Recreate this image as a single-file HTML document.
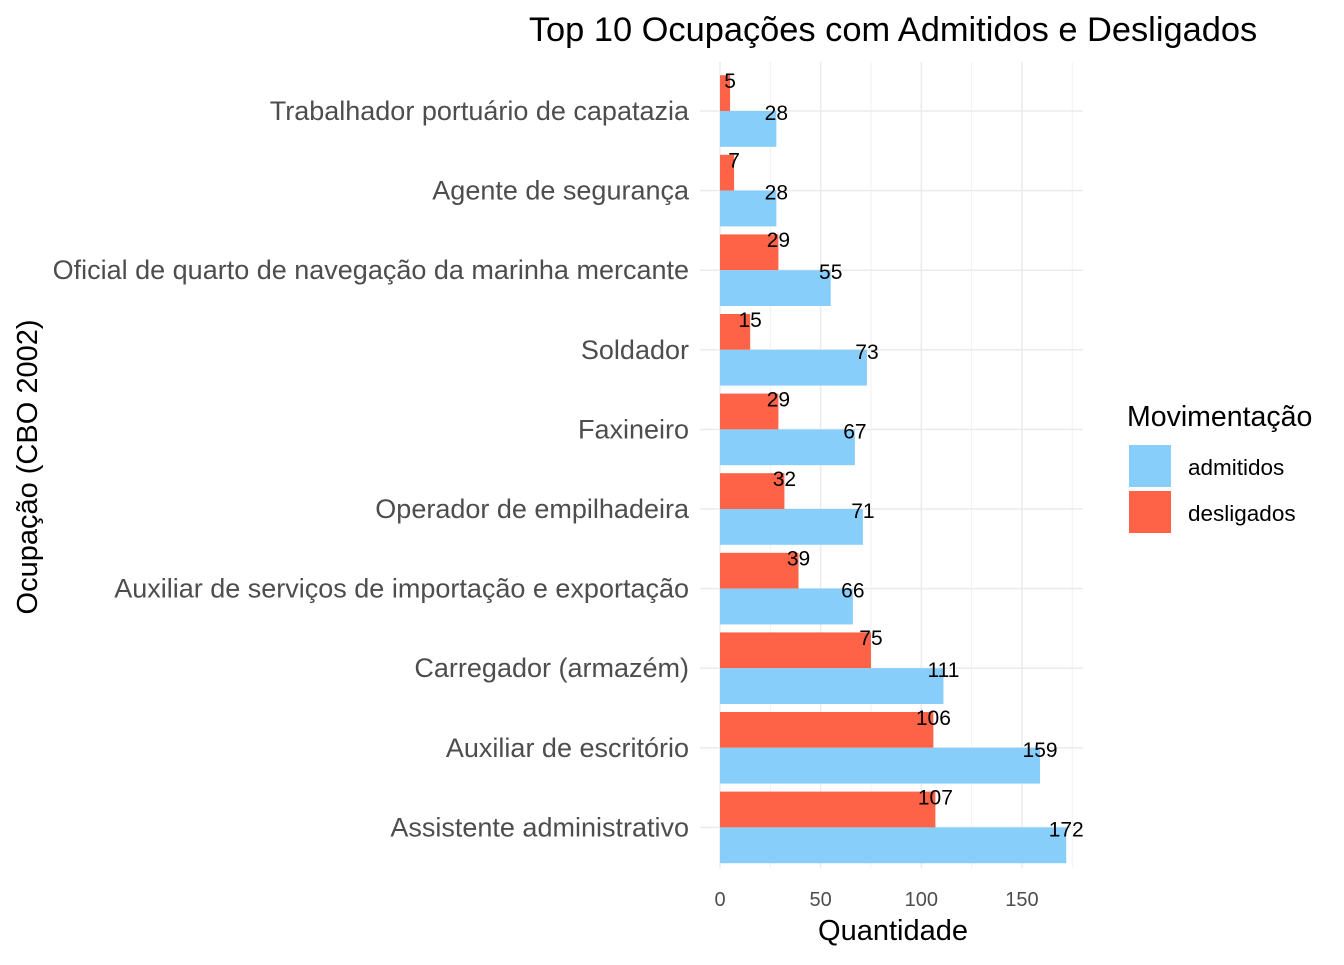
<!DOCTYPE html>
<html><head><meta charset="utf-8"><style>
body{margin:0;background:#fff;font-family:"Liberation Sans",Arial,sans-serif;}
</style></head><body>
<svg id="chart" width="1344" height="960" xmlns="http://www.w3.org/2000/svg" font-family="Liberation Sans, Arial, sans-serif">
<g id="grid"></g>
<g id="bars"></g>
<g id="labels"></g>
<g id="axes"></g>
<text x="893" y="41" font-size="34.4" text-anchor="middle" fill="#000">Top 10 Ocupações com Admitidos e Desligados</text>
<text x="893" y="940" font-size="29" text-anchor="middle" fill="#000">Quantidade</text>
<text transform="translate(37,467) rotate(-90)" font-size="29" text-anchor="middle" fill="#000">Ocupação (CBO 2002)</text>
<g>
<text x="1127" y="426" font-size="28.5" fill="#000">Movimentação</text>
<rect x="1129" y="445" width="42" height="42" fill="#87CEFA"/>
<text x="1188" y="475" font-size="22.5" fill="#000">admitidos</text>
<rect x="1129" y="491" width="42" height="42" fill="#FF6347"/>
<text x="1188" y="521" font-size="22.5" fill="#000">desligados</text>
</g>
</svg>
<script>
const categories=["Trabalhador portuário de capatazia","Agente de segurança","Oficial de quarto de navegação da marinha mercante","Soldador","Faxineiro","Operador de empilhadeira","Auxiliar de serviços de importação e exportação","Carregador (armazém)","Auxiliar de escritório","Assistente administrativo"];
const admitidos=[28,28,55,73,67,71,66,111,159,172];
const desligados=[5,7,29,15,29,32,39,75,106,107];
const xTicks=[0,50,100,150];
const xMinor=[25,75,125,175];
const NS="http://www.w3.org/2000/svg";
const x0=720,pxPer=2.013,yTop=111,step=79.6,bw=35.8;
const panelL=700,panelR=1083,panelT=62,panelB=868;
const X=v=>x0+v*pxPer;
const Y=i=>yTop+i*step;
function mk(tag,attrs,parent,text){const e=document.createElementNS(NS,tag);for(const k in attrs)e.setAttribute(k,attrs[k]);if(text!==undefined)e.textContent=text;parent.appendChild(e);return e;}
const grid=document.getElementById('grid'),bars=document.getElementById('bars'),labels=document.getElementById('labels'),axes=document.getElementById('axes');
xMinor.forEach(v=>{const l=mk('line',{x1:X(v),x2:X(v),y1:panelT,y2:panelB,stroke:'#f0f0f0','stroke-width':1},grid);

});
xTicks.forEach(v=>{const l=mk('line',{x1:X(v),x2:X(v),y1:panelT,y2:panelB,stroke:'#ebebeb','stroke-width':1.5},grid);


const t=mk('text',{x:X(v),y:906,'font-size':20,'text-anchor':'middle',fill:'#4d4d4d'},axes,String(v));

});
categories.forEach((c,i)=>{const y=Y(i);
const g=mk('line',{x1:panelL,x2:panelR,y1:y,y2:y,stroke:'#ebebeb','stroke-width':1.5},grid);


const t=mk('text',{x:689,y:y+9,'font-size':27,'text-anchor':'end',fill:'#4d4d4d'},axes,c);


const d=mk('rect',{x:X(0),y:y-bw,width:X(desligados[i])-X(0),height:bw,fill:'#FF6347'},bars);


const a=mk('rect',{x:X(0),y:y,width:X(admitidos[i])-X(0),height:bw,fill:'#87CEFA'},bars);


const dl=mk('text',{x:X(desligados[i]),y:y-23,'font-size':21,'text-anchor':'middle',fill:'#000'},labels,String(desligados[i]));


const al=mk('text',{x:X(admitidos[i]),y:y+9,'font-size':21,'text-anchor':'middle',fill:'#000'},labels,String(admitidos[i]));

});
</script>
</body></html>
